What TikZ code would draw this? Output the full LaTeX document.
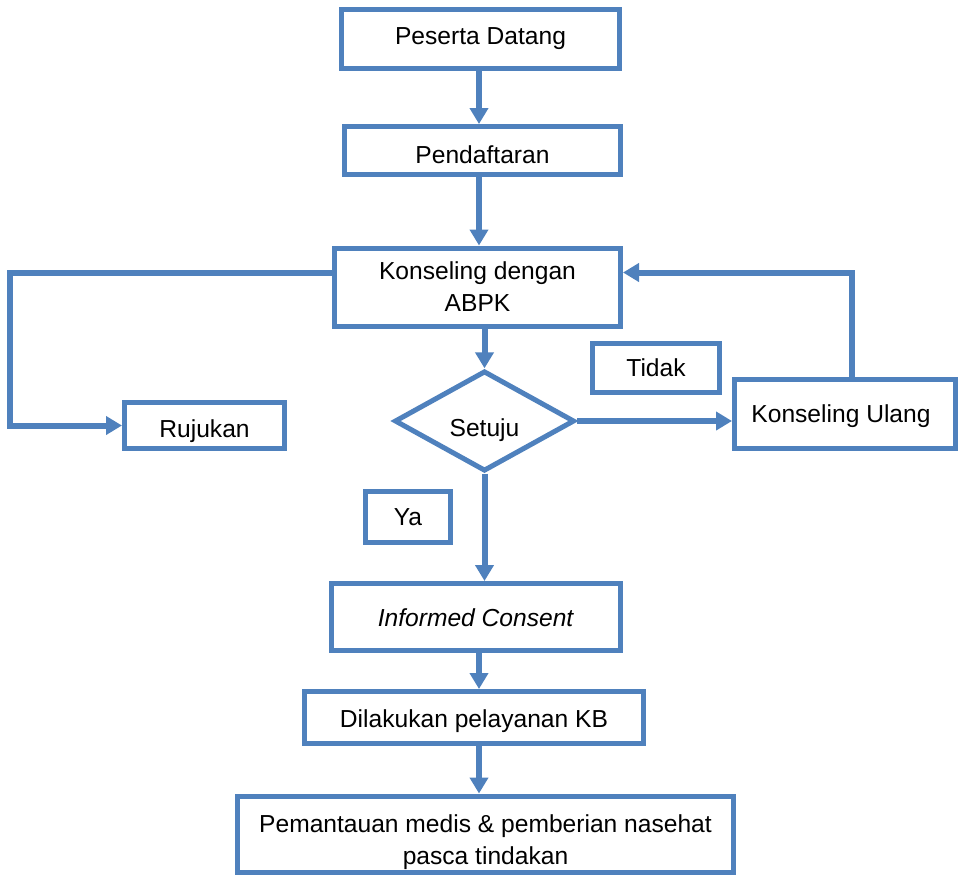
\documentclass[tikz,border=0pt]{standalone}
\usepackage{fontspec}
\setmainfont{Liberation Sans}
\usetikzlibrary{arrows.meta,shapes.geometric}
\definecolor{obl}{RGB}{79,129,189}
\begin{document}
\begin{tikzpicture}[x=0.5pt,y=-0.5pt,
  box/.style={draw=obl,line width=2.5pt,fill=white,inner sep=0pt,
    font=\fontsize{12.3}{16}\selectfont,align=center},
  one/.style={text height=#1,text depth=0pt},
  one/.default=8.8pt,
  conn/.style={draw=obl,line width=3pt},
  arr/.style={conn,-{Triangle[width=9pt,length=8pt]}}]
\useasboundingbox (0,0) rectangle (959,874);
\node[box,one=5.3pt,minimum width=139pt,minimum height=29.5pt] (pes) at (480.5,39) {Peserta Datang};
\node[box,one=12.8pt,minimum width=138pt,minimum height=24pt] (pend) at (482.5,150.5) {Pendaftaran};
\node[box,minimum width=143pt,minimum height=39pt] (kons) at (477.5,287) {Konseling dengan\\ABPK};
\node[box,one=11.8pt,minimum width=80pt,minimum height=23pt] (ruj) at (204.5,425.5) {Rujukan};
\node[box,shape=diamond,one=15.3pt,minimum width=90pt,minimum height=44pt] (setuju) at (484.5,421) {Setuju};
\node[box,one,minimum width=63.5pt,minimum height=24.5pt] (tidak) at (656,368) {Tidak};
\node[box,one,minimum width=110.5pt,minimum height=34.5pt] (ku) at (845,414) {Konseling Ulang\hspace*{4pt}};
\node[box,one,minimum width=42.5pt,minimum height=25.5pt] (ya) at (408,517) {Ya};
\node[box,one=9.8pt,minimum width=144.5pt,minimum height=33.5pt] (inf) at (476,617) {\textit{Informed Consent}};
\node[box,one=10.3pt,minimum width=169.5pt,minimum height=26pt] (dil) at (474,717.5) {Dilakukan pelayanan KB};
\node[box,minimum width=248pt,minimum height=38pt] (pem) at (485.5,834) {\rule{0pt}{17pt}Pemantauan medis \& pemberian nasehat\\pasca tindakan};
\coordinate (ax) at (479,0);
\coordinate (lft) at (10,0);
\draw[arr] (pes.south -| ax) -- (pend.north -| ax);
\draw[arr] (pend.south -| ax) -- (kons.north -| ax);
\draw[arr] (kons.south -| setuju.north) -- (setuju.north);
\draw[arr] ([yshift=7.25pt]kons.west) -| (lft |- ruj.west) -- (ruj.west);
\draw[arr] (setuju.east) -- (setuju.east -| ku.west);
\draw[arr] ([xshift=3.5pt]ku.north) |- ([yshift=7.25pt]kons.east);
\draw[arr] (setuju.south) -- (setuju.south |- inf.north);
\draw[arr] (inf.south -| ax) -- (dil.north -| ax);
\draw[arr] (dil.south -| ax) -- (pem.north -| ax);
\end{tikzpicture}
\end{document}
